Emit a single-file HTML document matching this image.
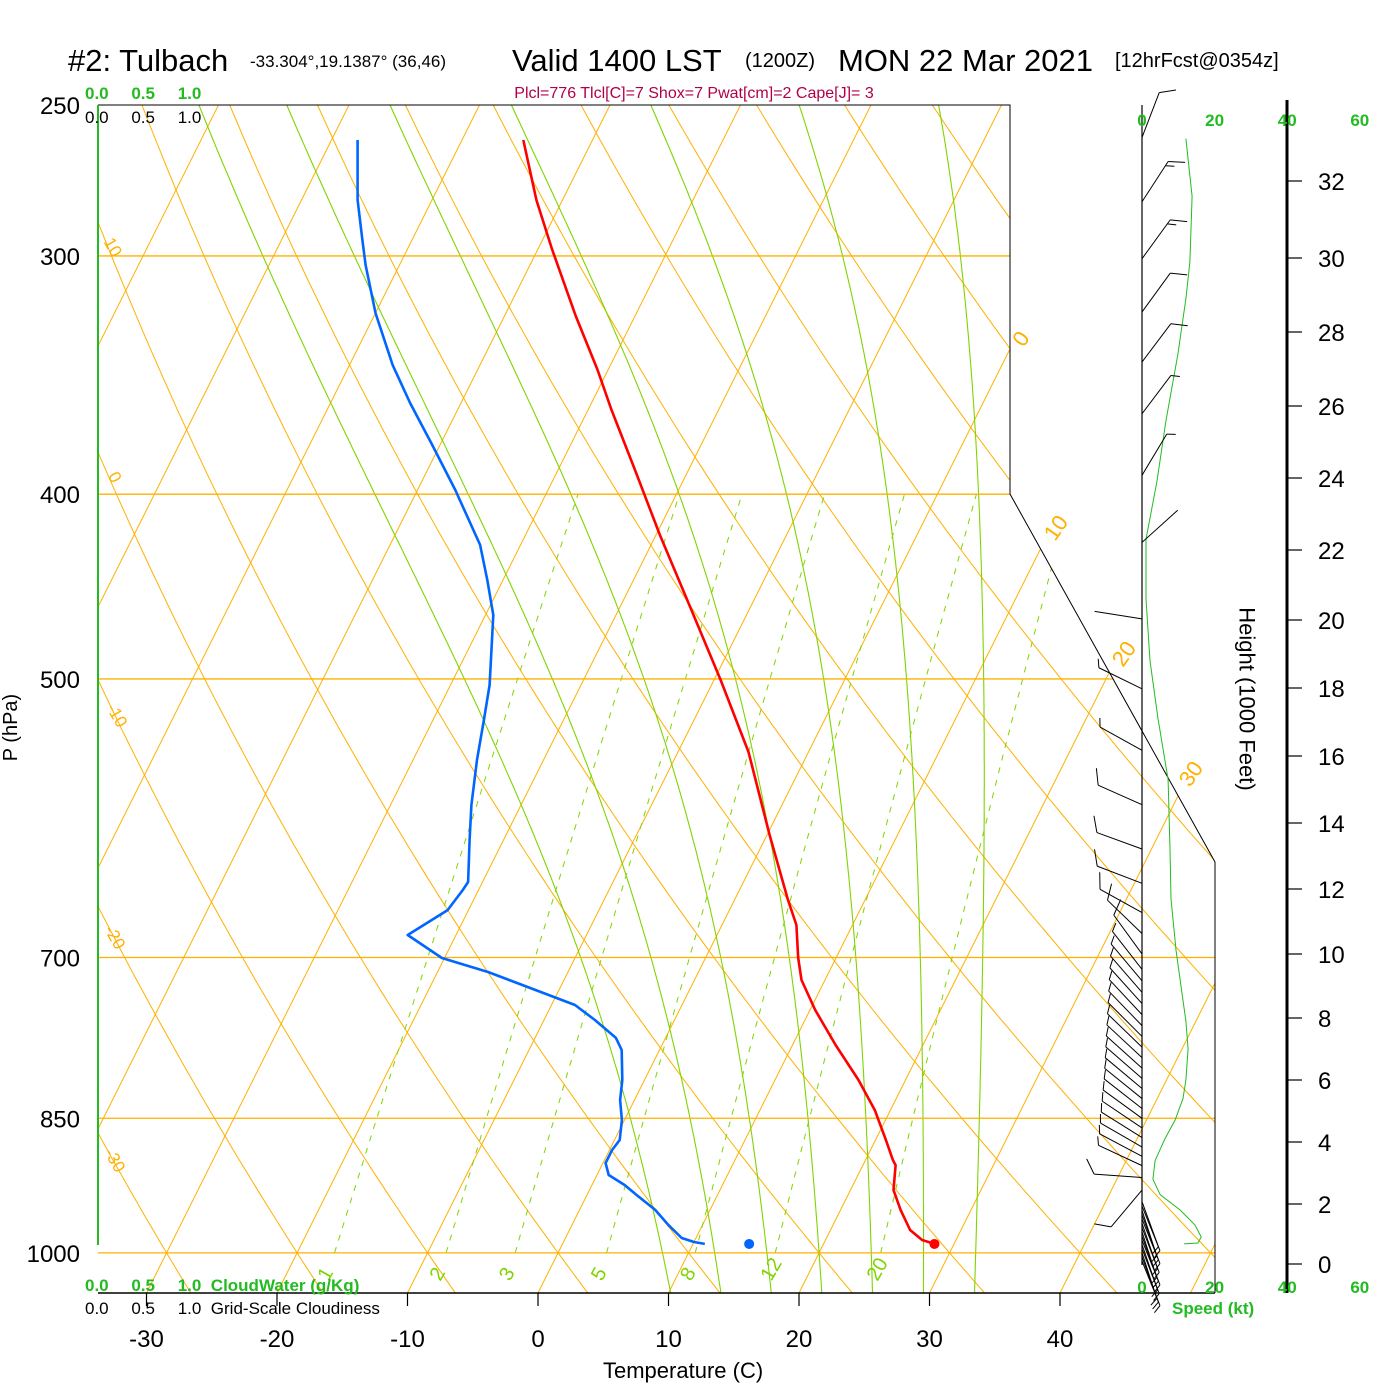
<!DOCTYPE html>
<html><head><meta charset="utf-8"><style>
html,body{margin:0;padding:0;background:#fff;}
svg{display:block;font-family:"Liberation Sans",sans-serif;}
</style></head><body>
<svg id="chart" width="1400" height="1400" viewBox="0 0 1400 1400" xmlns="http://www.w3.org/2000/svg">
<defs><clipPath id="plotclip"><polygon points="98,105 1010,105 1010,494 1215,862 1215,1293 98,1293"/></clipPath></defs>
<rect width="1400" height="1400" fill="#fff"/>
<g id="title">
<text x="68" y="71" font-size="31">#2: Tulbach</text>
<text x="250" y="67" font-size="17">-33.304°,19.1387° (36,46)</text>
<text x="512" y="71" font-size="31">Valid 1400 LST</text>
<text x="745" y="67" font-size="20">(1200Z)</text>
<text x="838" y="71" font-size="31">MON 22 Mar 2021</text>
<text x="1115" y="67" font-size="20">[12hrFcst@0354z]</text>
</g>
<text x="694" y="98" font-size="16" fill="#b0004a" text-anchor="middle">Plcl=776 Tlcl[C]=7 Shox=7 Pwat[cm]=2 Cape[J]= 3</text>
<g id="grid" clip-path="url(#plotclip)"></g>
<g id="frame"></g>
<g id="profiles" clip-path="url(#plotclip)"></g>
<g id="wind"></g>
<g id="labels"></g>
</svg>
<script>
// ---- data ----
const tempP=[260.8,280.4,297.1,322.2,344.3,361.3,388.5,420.2,457.8,500.6,546.1,603.7,653,673,700.4,719.3,745.8,778,811.6,841.6,872.6,894,899.4,927,949.5,972.8,984.6,989.3];
const tempT=[-45.3,-42.0,-39.0,-34.6,-30.8,-28.2,-24.1,-19.7,-14.7,-9.5,-4.6,0.2,4.1,5.7,7.1,8.2,10.4,13.3,16.4,18.8,20.8,22.1,22.5,23.3,24.6,26.1,27.4,28.5];
const dewP=[260.8,280.4,294.3,303.3,321.4,342.2,358.3,376.9,398,425.3,443.7,462.9,503.7,525.4,551.4,582.2,607.4,639,645.2,661,681.2,700.4,712.4,728,741.3,754.9,771.4,782.7,811.6,831.5,851.8,872.6,883.2,897.2,910.3,921.3,932.5,949.5,967,982.2,987,989.3];
const dewT=[-58.0,-55.7,-53.8,-52.6,-50.0,-46.7,-43.9,-40.6,-37.1,-33.1,-31.2,-29.4,-27.0,-26.1,-25.1,-23.8,-22.6,-21.1,-21.2,-21.6,-23.7,-20.2,-16.1,-11.8,-8.2,-6.1,-3.8,-2.9,-1.7,-1.1,-0.2,0.4,0.2,0.2,0.9,2.5,3.8,5.8,7.4,8.9,10.0,10.9];
const sfcP=989.3, sfcT=28.5, sfcTd=14.3;
const pLevels=[250,300,400,500,700,850,1000];
const tTicks=[-30,-20,-10,0,10,20,30,40];
const isoT=[-120,-110,-100,-90,-80,-70,-60,-50,-40,-30,-20,-10,0,10,20,30,40,50];
const thetaVals=[-60,-50,-40,-30,-20,-10,0,10,20,30,40,50,60,70,80,90,100,110,120,130,140,150,160,170,180];
const thetaW=[8,12,16,20,24,28,32];
const mixW=[1,2,3,5,8,12,20];
const barbP=[260,281,301,321,341,363,391,424,465,506,545,582,614,640,663,680,697,710,720,730,740,750,760,770,780,790,800,810,820,830,840,850,860,870,880,890,900,913,927,940,945,950,955,960,965,970,975,980,985,990,995,1000,1005,1010];
const barbDir=[21,33,36,36,37,37,31,48,-81,-64,-61,-66,-70,-69,-61,-46,-36,-38,-40,-41,-42,-43,-44,-45,-46,-47,-48,-49,-50,-51,-52,-54,-56,-58,-60,-62,-65,-86,-140,160,158,162,160,158,161,159,162,160,158,161,159,162,160,158];
const barbSpd=[10,15,15,10,10,5,5,2,2,5,5,10,10,10,10,10,10,5,5,5,5,5,5,5,5,5,5,5,5,5,5,5,5,5,5,5,5,10,10,5,5,5,5,5,5,5,5,5,5,5,5,5,5,5];
const windH=[33.1,31.6,29.9,28.9,27.4,25.6,23.9,22.3,20.6,18.8,17.1,15.3,13.2,11.7,10.1,9.2,7.9,7.0,6.0,5.4,4.7,4.1,3.4,2.8,2.3,1.8,1.3,0.9,0.7,0.67];
const windSpd=[12.1,13.8,13.2,12.1,9.9,6.6,4.1,1.1,1.1,2.2,4.4,7.2,7.7,8.0,9.4,10.5,12.1,12.7,12.1,11.3,9.1,6.3,3.6,3.0,5.0,10.5,14.6,16.3,15.4,11.6];
const hTickVals=[0,2,4,6,8,10,12,14,16,18,20,22,24,26,28,30,32];
const hTickY=[1264,1204,1142,1080,1018,954,889,823,756,688,620,550,478,406,332,258,181];
const spdTicks=[0,20,40,60];

// ---- axes ----
const NS="http://www.w3.org/2000/svg";
const yP=p=>105+828*Math.log(p/250);
const xT=(T,p)=>538+13.05*T+0.5*(1293-yP(p));
const xS=s=>1142+s*3.63;
function yH(h){
  for(let i=0;i<hTickVals.length-1;i++){
    if(h<=hTickVals[i+1]||i===hTickVals.length-2){
      const f=(h-hTickVals[i])/(hTickVals[i+1]-hTickVals[i]);
      return hTickY[i]+f*(hTickY[i+1]-hTickY[i]);
    }
  }
}
function mk(tag,attrs,parent){const e=document.createElementNS(NS,tag);for(const k in attrs)e.setAttribute(k,attrs[k]);parent.appendChild(e);return e;}
const grid=document.getElementById('grid'),frame=document.getElementById('frame'),prof=document.getElementById('profiles'),wind=document.getElementById('wind'),lab=document.getElementById('labels');
const ORANGE="#ffb000",GREEN="#7fd400";

// isotherms
isoT.forEach(T=>{
  const l=mk('line',{x1:xT(T,1050),y1:yP(1050),x2:xT(T,250),y2:yP(250),stroke:ORANGE,'stroke-width':1},grid);
  
  
});
// dry adiabats
thetaVals.forEach(th=>{
  let d='';
  for(let p=1050;p>=250;p-=10){const T=(th+273.15)*Math.pow(p/1000,0.2857)-273.15;d+=(d?'L':'M')+xT(T,p).toFixed(1)+','+yP(p).toFixed(1);}
  const e=mk('path',{d:d,fill:'none',stroke:ORANGE,'stroke-width':1},grid);
  
  
});
// moist adiabats
function es(Tc){return 6.112*Math.exp(17.67*Tc/(Tc+243.5));}
function dTdp(T,p){const Tc=T-273.15;const e=es(Tc);const rs=0.622*e/(p-e);const Lv=2.5e6,Rd=287,cp=1005;return (Rd*T+Lv*rs)/(p*(cp+Lv*Lv*rs*0.622/(Rd*T*T)));}
thetaW.forEach(tw=>{
  const pts=[];
  let T=tw+273.15;
  for(let p=1000;p>=250;p-=2){pts.push([p,T]);T-=dTdp(T,p)*2;}
  T=tw+273.15;const down=[];
  for(let p=1000;p<=1050;p+=2){down.push([p,T]);T+=dTdp(T,p)*2;}
  const all=down.reverse().concat(pts);
  let d='';all.forEach(a=>{d+=(d?'L':'M')+xT(a[1]-273.15,a[0]).toFixed(1)+','+yP(a[0]).toFixed(1);});
  const e=mk('path',{d:d,fill:'none',stroke:GREEN,'stroke-width':1.1},grid);
  
  
});
// mixing ratio lines
mixW.forEach(w=>{
  let d='';
  for(let p=1000;p>=400;p-=10){const e=w*p/(622+w);const L=Math.log(e/6.112);const Td=243.5*L/(17.67-L);d+=(d?'L':'M')+xT(Td,p).toFixed(1)+','+yP(p).toFixed(1);}
  const e=mk('path',{d:d,fill:'none',stroke:GREEN,'stroke-width':1,'stroke-dasharray':'6,7'},grid);
  
  
  const L0=Math.log(w*1049/(622+w)/6.112);const Td0=243.5*L0/(17.67-L0);
  const lx=xT(Td0,1049)+6;
  const t=mk('text',{x:lx,y:1282,'font-size':20,fill:GREEN,transform:'rotate(-60 '+lx+' 1282)'},lab);
  t.textContent=String(w);
  
  
});
// pressure lines
pLevels.forEach(p=>{
  if(p===250)return;
  const y=yP(p);let xr=1010;
  if(y>494)xr=Math.min(1215,1010+(y-494)*205/368);
  const l=mk('line',{x1:98,y1:y,x2:xr,y2:y,stroke:ORANGE,'stroke-width':1.3},frame);
  
  
  const t=mk('text',{x:80,y:y+9,'font-size':24,'text-anchor':'end'},lab);
  t.textContent=String(p);
  
  
});
{const t=mk('text',{x:80,y:114,'font-size':24,'text-anchor':'end'},lab);t.textContent='250';

}
// frame
mk('path',{d:'M98,105 L1010,105 L1010,494 L1215,862 L1215,1293',fill:'none',stroke:'#000','stroke-width':1},frame);
mk('line',{x1:98,y1:105,x2:98,y2:1245,stroke:'#22bb22','stroke-width':2},frame);
mk('line',{x1:98,y1:1293,x2:1215,y2:1293,stroke:'#000','stroke-width':1.5},frame);
tTicks.forEach(T=>{
  const x=538+13.05*T;
  mk('line',{x1:x,y1:1293,x2:x,y2:1306,stroke:'#000','stroke-width':1.2},frame);
  const t=mk('text',{x:x,y:1347,'font-size':24,'text-anchor':'middle'},lab);
  t.textContent=String(T);
  
  
});
// wind axis
mk('line',{x1:1142,y1:105,x2:1142,y2:1265,stroke:'#000','stroke-width':1.2},frame);
mk('line',{x1:1287,y1:100,x2:1287,y2:1293,stroke:'#000','stroke-width':3},frame);
hTickVals.forEach((h,i)=>{
  const y=hTickY[i];
  mk('line',{x1:1287,y1:y,x2:1302,y2:y,stroke:'#000','stroke-width':1.2},frame);
  const t=mk('text',{x:1318,y:y+9,'font-size':24},lab);
  t.textContent=String(h);
  
  
});
spdTicks.forEach(s=>{
  [126,1293].forEach(y=>{
    const t=mk('text',{x:xS(s),y:y,'font-size':17,'font-weight':'bold',fill:'#22bb22','text-anchor':'middle'},lab);
    t.textContent=String(s);
    
    
  });
});
// profiles
function polyline(ps,ts,color,name){
  let d='';ps.forEach((p,i)=>{d+=(d?'L':'M')+xT(ts[i],p).toFixed(1)+','+yP(p).toFixed(1);});
  const e=mk('path',{d:d,fill:'none',stroke:color,'stroke-width':2.6,'stroke-linejoin':'round'},prof);
  
  
}
polyline(tempP,tempT,'#ff0000','temperature-profile');
polyline(dewP,dewT,'#0066ff','dewpoint-profile');
{const c=mk('circle',{cx:xT(sfcT,sfcP),cy:yP(sfcP),r:5,fill:'#ff0000'},prof);


const c2=mk('circle',{cx:xT(sfcTd,sfcP),cy:yP(sfcP),r:5,fill:'#0066ff'},prof);

}
// wind speed line
{let d='';windH.forEach((h,i)=>{d+=(d?'L':'M')+xS(windSpd[i]).toFixed(1)+','+yH(h).toFixed(1);});
const e=mk('path',{d:d,fill:'none',stroke:'#22bb22','stroke-width':1},wind);

}
// barbs
barbP.forEach((p,i)=>{
  const y=yP(p),a=barbDir[i]*Math.PI/180,L=48;
  const tx=1142+L*Math.sin(a),ty=y-L*Math.cos(a);
  const g=mk('g',{},wind);
  
  
  mk('line',{x1:1142,y1:y,x2:tx,y2:ty,stroke:'#000','stroke-width':1},g);
  let s=barbSpd[i],k=0;const fa=a+60*Math.PI/180;
  while(s>=5){
    const len=s>=10?17:9;
    const bx=tx-k*5*Math.sin(a),by=ty+k*5*Math.cos(a);
    mk('line',{x1:bx,y1:by,x2:bx+len*Math.sin(fa),y2:by-len*Math.cos(fa),stroke:'#000','stroke-width':1},g);
    s-=s>=10?10:5;k++;
  }
});
// dry adiabat / isotherm labels
[["10",108,250],["0",110,480],["-10",112,718],["-20",110,940],["-30",110,1163]].forEach(a=>{
  const t=mk('text',{x:a[1],y:a[2],'font-size':17,fill:ORANGE,'text-anchor':'middle',transform:'rotate(60 '+a[1]+' '+a[2]+')'},lab);
  t.textContent=a[0];
  
  
});
[["0",1027,343],["10",1062,532],["20",1130,658],["30",1197,778]].forEach(a=>{
  const t=mk('text',{x:a[1],y:a[2],'font-size':22,fill:ORANGE,'text-anchor':'middle',transform:'rotate(-55 '+a[1]+' '+a[2]+')'},lab);
  t.textContent=a[0];
  
  
});
</script>
<div style="position:absolute;left:0;top:0;width:1400px;height:1400px;pointer-events:none;font-family:'Liberation Sans',sans-serif;">
<div style="position:absolute;left:85px;top:84px;font-size:17px;color:#22bb22;font-weight:bold;word-spacing:18px;">0.0 0.5 1.0</div>
<div style="position:absolute;left:85px;top:108px;font-size:17px;color:#000;word-spacing:18px;">0.0 0.5 1.0</div>
<div style="position:absolute;left:85px;top:1276px;font-size:17px;color:#22bb22;font-weight:bold;white-space:nowrap;"><span style="word-spacing:18px;">0.0 0.5 1.0</span>&nbsp;&nbsp;CloudWater (g/Kg)</div>
<div style="position:absolute;left:85px;top:1299px;font-size:17px;color:#000;white-space:nowrap;"><span style="word-spacing:18px;">0.0 0.5 1.0</span>&nbsp;&nbsp;Grid-Scale Cloudiness</div>
<div style="position:absolute;left:603px;top:1358px;font-size:22px;white-space:nowrap;">Temperature (C)</div>
<div style="position:absolute;left:1172px;top:1299px;font-size:17px;color:#22bb22;font-weight:bold;white-space:nowrap;">Speed (kt)</div>
<div style="position:absolute;left:-22px;top:716px;font-size:20px;white-space:nowrap;transform:rotate(-90deg);">P (hPa)</div>
<div style="position:absolute;left:1155px;top:686px;font-size:22px;white-space:nowrap;transform:rotate(90deg);">Height (1000 Feet)</div>
</div>
</body></html>
